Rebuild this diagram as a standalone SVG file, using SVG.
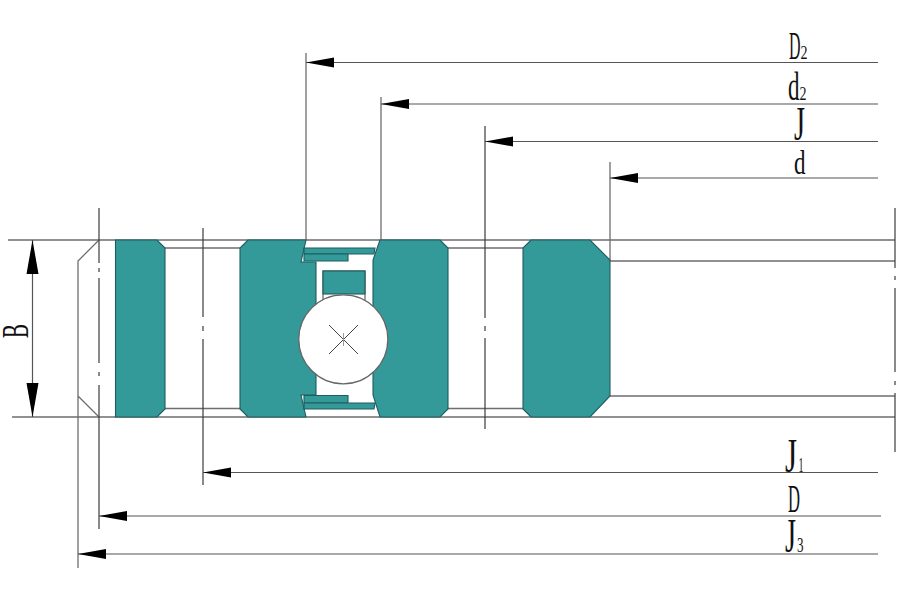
<svg xmlns="http://www.w3.org/2000/svg" width="900" height="600" viewBox="0 0 900 600">
<style>
.t{fill:#339999;stroke:#1f5c5e;stroke-width:1.1}
.l{fill:none;stroke:#6e6e6e;stroke-width:1.3}
.k{fill:none;stroke:#3c3c3c;stroke-width:1.2}
.a{fill:none;stroke:#555;stroke-width:1.2;marker-end:url(#ah)}
.b{fill:none;stroke:#555;stroke-width:1.2;marker-end:url(#av);marker-start:url(#av)}
text{font-family:"Liberation Serif",serif;fill:#111}
</style>
<defs>
<marker id="ah" markerUnits="userSpaceOnUse" markerWidth="28" markerHeight="12" refX="28" refY="6" orient="auto"><path d="M28 6L0 1V11Z" fill="#000"/></marker>
<marker id="av" markerUnits="userSpaceOnUse" markerWidth="34" markerHeight="14" refX="34" refY="7" orient="auto-start-reverse"><path d="M34 7L0 1V13Z" fill="#000"/></marker>
</defs>
<rect width="900" height="600" fill="#fff"/>
<g id="connectors">
<path class="l" d="M8 240H895M12 417H895M165 248H240M448 248H523M165 408.500H240M448 408.500H523M610 261H895M610 396H895"/>
<path class="l" d="M99 240L78 261V568M99 417L78 396"/>
<path class="k" d="M99 208V263M99 268V272M99 278V363M99 372V376M99 385V529"/>
<path class="k" d="M203 228V317M203 326V331M203 339V485"/>
<path class="k" d="M485 126V318M485 326V331M485 338V429"/>
<path class="k" d="M895 208V268M895 276V280M895 288V372M895 381V385M895 393V452"/>
<path class="l" d="M306 53V240M381 97V240M610 162V261"/>
<path class="a" d="M878 62.500H306"/>
<path class="a" d="M878 104H381"/>
<path class="a" d="M878 141.500H485"/>
<path class="a" d="M878 178H610"/>
<path class="a" d="M878 472.500H203"/>
<path class="a" d="M881 516H99"/>
<path class="a" d="M878 554H78"/>
<path class="b" d="M32.500 240V417"/>
</g>
<g id="ring-1"><path class="t" d="M115.500 240H157L165 248V409L157 417H115.500Z"/></g>
<g id="ring-2"><path class="t" d="M248 240H306L301 262H316V395H301L306 417H248L240 409V248Z"/></g>
<g id="ring-3"><path class="t" d="M380 240L373 260V395L380 417H440L448 409V248L440 240Z"/></g>
<g id="ring-4"><path class="t" d="M531 240H590L610 260V396L590 417H531L523 409V248Z"/></g>
<g id="seal-top">
<path class="t" d="M304 248H375L374 254H304Z"/>
<path class="t" d="M304 254H348V261H304Z"/>
</g>
<g id="seal-bottom">
<path class="t" d="M304 395.500H348V403H304Z"/>
<path class="t" d="M304 403H375L374 409H304Z"/>
</g>
<g id="spacer">
<rect class="l" x="323" y="271" width="42" height="30"/>
<rect class="t" x="323" y="271" width="42" height="23"/>
</g>
<g id="ball">
<circle cx="343.300" cy="339.300" r="44.500" fill="#fff" stroke="#666" stroke-width="1.2"/>
<path d="M329 325L358 354M358 325L329 354" fill="none" stroke="#444" stroke-width="1"/>
<path d="M343.500 333V346" fill="none" stroke="#999" stroke-width="1"/>
</g>
<g id="labels">
<text x="789" y="59" font-size="40"><tspan textLength="11.500" lengthAdjust="spacingAndGlyphs">D</tspan><tspan font-size="19" textLength="7" lengthAdjust="spacingAndGlyphs">2</tspan></text>
<text x="788" y="100" font-size="40"><tspan textLength="11.500" lengthAdjust="spacingAndGlyphs">d</tspan><tspan font-size="19" textLength="7" lengthAdjust="spacingAndGlyphs">2</tspan></text>
<text x="794" y="139.500" font-size="48" textLength="11" lengthAdjust="spacingAndGlyphs">J</text>
<text x="794" y="174" font-size="33" textLength="11.500" lengthAdjust="spacingAndGlyphs">d</text>
<text x="785" y="471.500" font-size="48"><tspan textLength="12" lengthAdjust="spacingAndGlyphs">J</tspan><tspan font-size="20" dx="1.500" textLength="5" lengthAdjust="spacingAndGlyphs">1</tspan></text>
<text x="788" y="511.500" font-size="40" textLength="12" lengthAdjust="spacingAndGlyphs">D</text>
<text x="785" y="551.500" font-size="48"><tspan textLength="11" lengthAdjust="spacingAndGlyphs">J</tspan><tspan font-size="20" dx="1" textLength="6.500" lengthAdjust="spacingAndGlyphs">3</tspan></text>
<text transform="translate(28,338) rotate(-90)" font-size="38" textLength="14" lengthAdjust="spacingAndGlyphs">B</text>
</g>
</svg>
